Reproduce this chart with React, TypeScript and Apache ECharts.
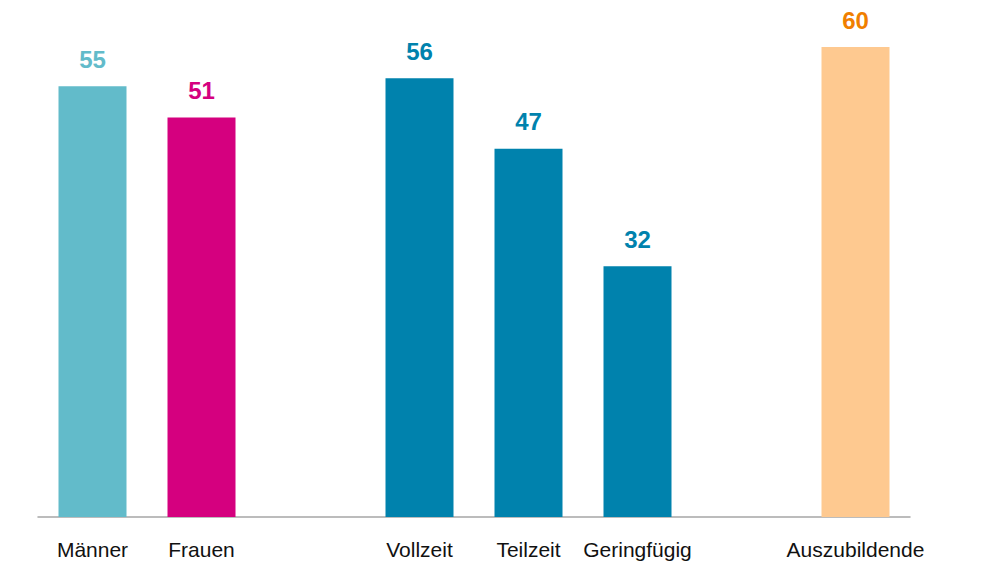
import React, { useEffect, useRef } from "react";
import * as echarts from "echarts";

const categories = ["Männer", "Frauen", "", "Vollzeit", "Teilzeit", "Geringfügig", "", "Auszubildende"];
const values: (number | null)[] = [55, 51, null, 56, 47, 32, null, 60];
const barColors = ["#62BBCA", "#D5007F", "#ffffff", "#0082AD", "#0082AD", "#0082AD", "#ffffff", "#FEC990"];
const labelColors = ["#62BBCA", "#D5007F", "#ffffff", "#0082AD", "#0082AD", "#0082AD", "#ffffff", "#F07F00"];

export default function App() {
  const ref = useRef<HTMLDivElement>(null);
  useEffect(() => {
    if (!ref.current) return;
    const chart = echarts.init(ref.current, null, { renderer: "svg" });
    chart.setOption({
      animation: false,
      backgroundColor: "#ffffff",
      grid: { left: 38, right: 71, top: 47, bottom: 60, containLabel: false },
      xAxis: {
        type: "category",
        data: categories,
        axisLine: { lineStyle: { color: "#A6A6A6", width: 1.5 } },
        axisTick: { show: false },
        axisLabel: {
          color: "#111111",
          fontFamily: "Liberation Sans, Arial, sans-serif",
          fontSize: 21,
          margin: 22,
          interval: 0,
        },
      },
      yAxis: {
        type: "value",
        min: 0,
        max: 60,
        show: false,
        splitLine: { show: false },
      },
      series: [
        {
          type: "bar",
          barWidth: 68,
          data: values.map((v, i) =>
            v === null
              ? "-"
              : {
                  value: v,
                  itemStyle: { color: barColors[i] },
                  label: { color: labelColors[i] },
                }
          ),
          label: {
            show: true,
            position: "top",
            distance: 15,
            fontFamily: "Liberation Sans Narrow, Arial Narrow, Liberation Sans, sans-serif",
            fontWeight: "bold",
            fontSize: 24,
          },
        },
      ],
    });
    return () => chart.dispose();
  }, []);
  return (
    <div
      ref={ref}
      style={{ position: "absolute", left: 0, top: 0, width: 981, height: 577 }}
    />
  );
}
